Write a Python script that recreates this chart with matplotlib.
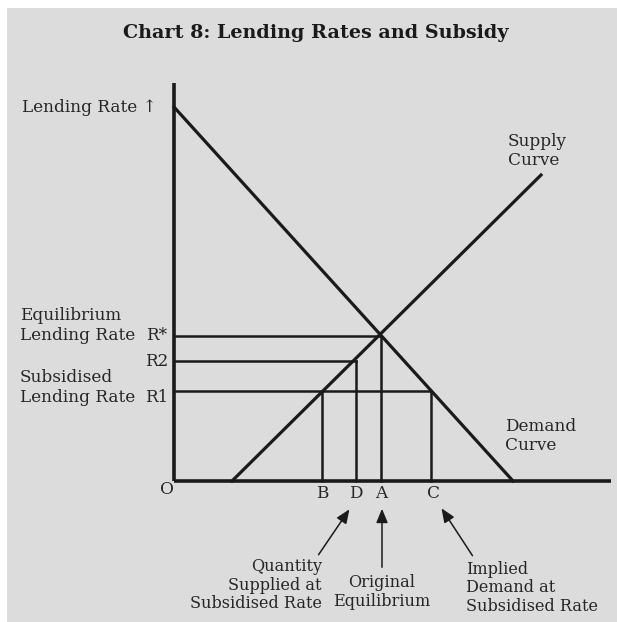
import matplotlib.pyplot as plt
from matplotlib.patches import Rectangle

# values (origin O at 0,0)
demand_q = [0, 339]
demand_r = [374, 0]
supply_q = [58, 367]
supply_r = [0, 306]

rate_names = ["R*", "R2", "R1"]
rate_vals = [145, 120, 90]
rate_ends = [207, 182, 257]   # where each horizontal stops

qty_names = ["B", "D", "A", "C"]
qty_vals = [148, 182, 207, 257]
qty_tops = [90, 120, 145, 90]

plt.rcParams['font.family'] = ['DejaVu Serif']

fig = plt.figure(figsize=(6.17, 6.22), dpi=100)
fig.patch.set_facecolor('white')
fig.add_artist(Rectangle((7 / 617, 0), 610 / 617, 614 / 622,
                         transform=fig.transFigure, facecolor='#dcdcdc',
                         edgecolor='none', zorder=-10))

ax = fig.add_axes([0, 0, 1, 1])
ax.set_xlim(-174, 443)
ax.set_ylim(-141, 481)
ax.axis('off')

c = '#1a1a1a'
# axes
ax.plot([0, 0], [0, 398], color=c, lw=2.6, solid_capstyle='butt')
ax.plot([0, 437], [0, 0], color=c, lw=2.6, solid_capstyle='butt')

# curves
ax.plot(demand_q, demand_r, color=c, lw=2.3)
ax.plot(supply_q, supply_r, color=c, lw=2.3)

for r, e in zip(rate_vals, rate_ends):
    ax.plot([0, e], [r, r], color=c, lw=1.8)
for q, t in zip(qty_vals, qty_tops):
    ax.plot([q, q], [0, t], color=c, lw=1.8)

fs = 12.2
tc = '#262626'
ax.text(142, 448, "Chart 8: Lending Rates and Subsidy", ha='center', va='center',
        fontsize=13.8, fontweight='bold', color=c)
ax.text(-152, 374, "Lending Rate \u2191", ha='left', va='center', fontsize=fs, color=tc)
ax.text(334, 330, "Supply\nCurve", ha='left', va='center', fontsize=fs, color=tc,
        linespacing=1.2)
ax.text(331, 45, "Demand\nCurve", ha='left', va='center', fontsize=fs, color=tc,
        linespacing=1.2)

ax.text(-154, 165, "Equilibrium", ha='left', va='center', fontsize=fs, color=tc)
ax.text(-154, 145, "Lending Rate", ha='left', va='center', fontsize=fs, color=tc)
ax.text(-154, 103, "Subsidised", ha='left', va='center', fontsize=fs, color=tc)
ax.text(-154, 83, "Lending Rate", ha='left', va='center', fontsize=fs, color=tc)
ax.text(-7, 145, rate_names[0], ha='right', va='center', fontsize=fs, color=tc)
ax.text(-6, 119, rate_names[1], ha='right', va='center', fontsize=fs, color=tc)
ax.text(-6, 83, rate_names[2], ha='right', va='center', fontsize=fs, color=tc)

ax.text(-7, -9, "O", ha='center', va='center', fontsize=fs, color=tc)
for name, q in zip(qty_names, qty_vals):
    ax.text(q + (3 if name == "C" else 0), -12, name, ha='center', va='center',
            fontsize=fs, color=tc)

# arrows to the quantity labels
arr = dict(arrowstyle='-|>,head_length=0.6,head_width=0.25', color=c, lw=1.1,
           mutation_scale=14)
ax.annotate("", xy=(177, -26), xytext=(143, -76), arrowprops=arr)
ax.annotate("", xy=(208, -25), xytext=(208, -89), arrowprops=arr)
ax.annotate("", xy=(266, -25), xytext=(300, -77), arrowprops=arr)

bfs = 11.6
ax.text(148, -104, "Quantity\nSupplied at\nSubsidised Rate", ha='right', va='center',
        fontsize=bfs, color=tc, linespacing=1.1)
ax.text(208, -111, "Original\nEquilibrium", ha='center', va='center',
        fontsize=bfs, color=tc, linespacing=1.1)
ax.text(292, -107, "Implied\nDemand at\nSubsidised Rate", ha='left', va='center',
        fontsize=bfs, color=tc, linespacing=1.1)

fig.savefig('out.png', dpi=100, facecolor=fig.get_facecolor())
